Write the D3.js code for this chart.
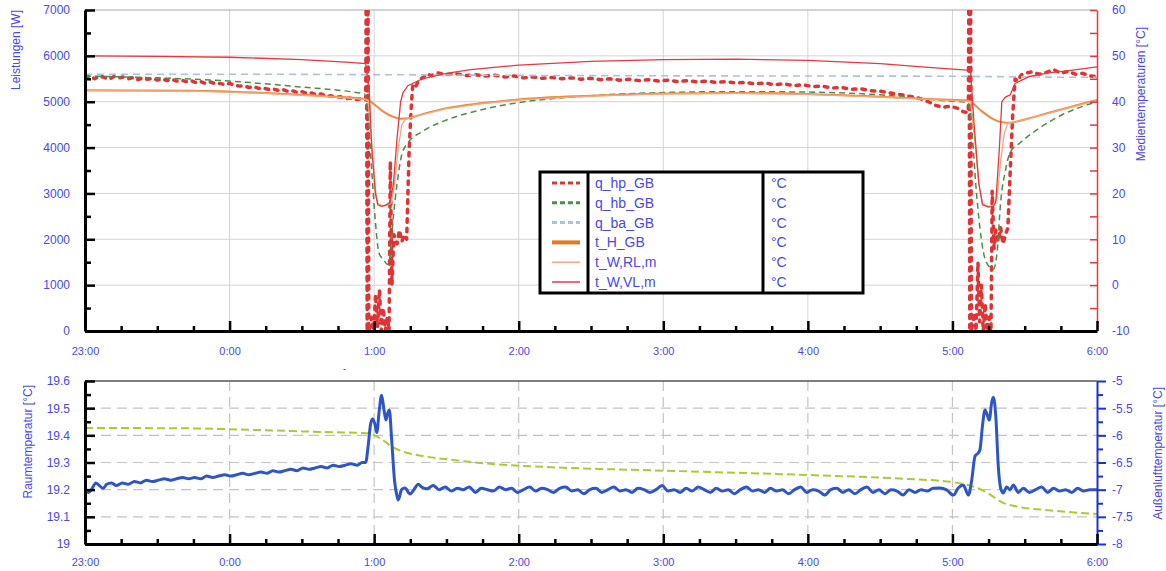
<!DOCTYPE html>
<html>
<head>
<meta charset="utf-8">
<script src="https://cdn.jsdelivr.net/npm/d3@7"></script>
<style>
  html, body { margin: 0; padding: 0; background: #fff; }
  svg text { font-family: "Liberation Sans", Arial, sans-serif; }
</style>
</head>
<body>
<svg id="chart" width="1166" height="571"></svg>
<script>
// ---------------------------------------------------------------------------
// Data: time in minutes after 23:00, values in W (power) or °C (temperatures)
// ---------------------------------------------------------------------------
const hourLabels = ["23:00", "0:00", "1:00", "2:00", "3:00", "4:00", "5:00", "6:00"];
const powerTicks = [0, 1000, 2000, 3000, 4000, 5000, 6000, 7000];
const mediumTicks = [-10, 0, 10, 20, 30, 40, 50, 60];
const roomTicks = [19, 19.1, 19.2, 19.3, 19.4, 19.5, 19.6];
const outdoorTicks = [-8, -7.5, -7, -6.5, -6, -5.5, -5];
const legendLabels = ["q_hp_GB", "q_hb_GB", "q_ba_GB", "t_H_GB", "t_W,RL,m", "t_W,VL,m"];
const legendUnit = "°C";

// heat pump output q_hp_GB [W]
const qHp = [
  [0,5520],[2,5560],[4,5500],[6,5560],[8,5530],[10,5490],[12,5550],[14,5520],[16,5540],[18,5500],
  [20,5530],[22,5480],[24,5520],[26,5490],[28,5510],[30,5470],[32,5500],[34,5460],[36,5490],[38,5450],
  [40,5470],[42,5440],[44,5460],[46,5420],[48,5440],[50,5400],[52,5430],[54,5390],[56,5400],[58,5370],
  [60,5400],[62,5360],[64,5340],[66,5350],[68,5310],[70,5330],[72,5290],[74,5300],[76,5270],[78,5280],
  [80,5250],[82,5270],[84,5230],[86,5240],[88,5200],[90,5220],[92,5180],[94,5190],[96,5150],[98,5170],
  [100,5120],[102,5130],[104,5090],[106,5110],[108,5060],[110,5080],[112,5040],[114,5060],[116.5,5040],
  [116.8,8500],[117.1,0],[117.4,8500],[117.8,0],[119,300],[119.8,0],[120.6,800],[121.4,100],[122.2,900],
  [123,0],[123.8,500],[124.6,0],[125.5,300],[126.2,0],[126.7,3700],[127.4,1000],[128.2,2100],[129.5,1900],
  [130.5,2200],[131.5,1950],[132.5,2100],[133.5,2000],[134.5,3900],[135.3,4800],[136,5350],[137,5300],
  [138.5,5470],[140,5520],[142,5600],[144,5570],[146,5630],[150,5590],[154,5610],[158,5570],[162,5590],
  [166,5560],[170,5580],[174,5540],[178,5560],[182,5520],[186,5540],[190,5510],[194,5530],[198,5500],
  [202,5520],[206,5490],[210,5510],[214,5480],[218,5500],[222,5470],[226,5490],[230,5460],[234,5480],
  [238,5450],[242,5470],[246,5440],[250,5460],[254,5430],[258,5450],[262,5420],[266,5440],[270,5410],
  [274,5420],[278,5390],[282,5410],[286,5370],[290,5390],[294,5350],[298,5370],[302,5330],[306,5340],
  [310,5300],[314,5310],[318,5270],[322,5280],[326,5240],[330,5230],[334,5190],[338,5160],[342,5120],
  [346,5080],[350,5000],[353,4920],[356,4880],[359,4900],[362,4860],[364.5,4780],[366.6,4760],
  [366.9,8500],[367.2,0],[367.5,8500],[367.9,0],[369,400],[369.8,0],[370.6,1500],[371.3,200],[372,1000],
  [372.8,0],[373.6,600],[374.4,0],[375.2,300],[376,0],[376.5,3050],[377.3,1800],[378,2200],[379,1950],
  [380,2250],[381,1900],[382,2100],[383,2250],[384,3500],[385,4700],[386,5500],[387,5450],[388.5,5580],
  [390,5620],[393,5650],[396,5600],[399,5640],[402,5700],[405,5620],[408,5660],[411,5600],[414,5620],
  [417,5560],[420,5550]
];

// q_hb_GB [W]
const qHb = [
  [0,5560],[30,5520],[60,5450],[90,5320],[110,5220],[116,5170],[117.5,4700],[119,3500],[120.5,2400],
  [122,1700],[124,1550],[125.5,1450],[126.5,1600],[128,2500],[129.5,3200],[131.5,3850],[134,4100],
  [140,4350],[150,4600],[165,4830],[180,4980],[210,5130],[240,5200],[270,5220],[300,5210],[330,5150],
  [355,5030],[366.5,4980],[368,4400],[370,3000],[372,2000],[374,1500],[377,1350],[378.5,1700],[380,2800],
  [382,3500],[384,3900],[388,4100],[396,4420],[405,4700],[420,5000]
];

// q_ba_GB [W]
const qBa = [
  [0,5600],[60,5600],[120,5590],[180,5575],[240,5565],[300,5560],[360,5555],[390,5540],[420,5530]
];

// t_H_GB [°C]
const tH = [
  [0,42.5],[45,42.4],[75,41.9],[100,41.2],[116,40.6],[118,40.2],[121,39.0],[124,37.8],[128,36.7],
  [131,36.3],[134,36.4],[140,37.3],[150,38.6],[165,39.7],[180,40.5],[210,41.3],[240,41.8],[270,41.9],
  [300,41.7],[330,41.1],[350,40.6],[366,40.3],[368,39.8],[372,38.0],[376,36.5],[380,35.6],[384,35.4],
  [386,35.6],[392,36.4],[400,37.6],[410,39.0],[420,40.4]
];

// t_W,RL,m [°C]
const tRl = [
  [0,42.4],[45,42.3],[75,41.8],[100,41.1],[116,40.5],[117.5,40.2],[119,31],[120.5,21],[121.6,17.8],
  [124,17.2],[127,17.8],[128.5,22],[130,30],[131.5,35],[133,36.2],[140,37.2],[150,38.5],[165,39.6],
  [180,40.4],[210,41.2],[240,41.7],[270,41.8],[300,41.6],[330,41.0],[350,40.5],[367.5,40.1],[369,33],
  [371,22],[372.5,17.8],[375,17.2],[377,17.4],[378.5,19],[380,27],[381.5,33],[383,35.4],[386,35.6],
  [392,36.3],[400,37.5],[410,38.9],[420,40.3]
];

// t_W,VL,m [°C]
const tVl = [
  [0,50.0],[30,49.9],[60,49.7],[90,49.2],[110,48.6],[116.5,48.3],[118,42],[119,30],[120.5,20],
  [121.5,17.5],[123,17.2],[125,17.5],[126.5,18],[128,22],[129.5,32],[131,40],[132,42],[134,43.5],
  [140,45],[150,46.2],[160,47],[180,48],[210,48.8],[240,49.2],[270,49.3],[300,49.0],[330,48.3],
  [350,47.5],[366,46.9],[367.5,46.8],[369,35],[371,22],[372.5,17.5],[375,17.0],[377,17.2],[378,18],
  [379.5,30],[380.5,40],[382,41],[384,41.5],[386,44],[392,45.5],[400,46.3],[410,46.9],[420,47.6]
];

// room temperature [°C]
const roomTemp = [
  [0,19.195],[1.5,19.19],[3,19.205],[4.5,19.225],[6,19.215],[7.5,19.205],[9,19.22],[11,19.225],
  [13,19.215],[15.5,19.225],[18,19.22],[20.5,19.23],[23,19.225],[25.5,19.235],[28,19.23],[30.5,19.235],
  [33,19.24],[35.5,19.235],[38,19.24],[40.5,19.245],[43,19.24],[45.5,19.245],[48,19.24],[50.5,19.25],
  [53,19.245],[55.5,19.25],[58,19.255],[60.5,19.25],[63,19.255],[65.5,19.26],[68,19.255],[70.5,19.26],
  [73,19.265],[75.5,19.26],[78,19.27],[80.5,19.265],[83,19.27],[85.5,19.275],[88,19.27],[90.5,19.28],
  [93,19.275],[95.5,19.28],[98,19.285],[100.5,19.28],[103,19.29],[105.5,19.285],[108,19.29],
  [110.5,19.295],[113,19.29],[115,19.3],[116.5,19.3],
  [117.5,19.36],[118.5,19.44],[119.3,19.46],[120.2,19.445],[121.1,19.41],[122.1,19.49],[123.1,19.548],
  [124.1,19.493],[124.9,19.456],[125.6,19.48],[126.3,19.493],[127.3,19.38],[128.5,19.23],[129.4,19.18],
  [130,19.162],[131.4,19.2],[132.8,19.206],[134.9,19.184],[136.5,19.2],[138.3,19.22],[139.7,19.21],
  [141.8,19.203],[144.5,19.215],[147,19.2],[149.5,19.21],[152,19.195],[154.5,19.205],[157,19.2],
  [159.5,19.21],[162,19.19],[164.5,19.205],[167,19.2],[169.5,19.195],[172,19.21],[174.5,19.2],
  [177,19.205],[179.5,19.19],[182,19.2],[184.5,19.21],[187,19.195],[189.5,19.205],[192,19.2],
  [194.5,19.19],[197,19.205],[199.5,19.21],[202,19.195],[204.5,19.2],[207,19.185],[209.5,19.2],
  [212,19.205],[214.5,19.19],[217,19.2],[219.5,19.21],[222,19.195],[224.5,19.2],[227,19.19],
  [229.5,19.205],[232,19.2],[234.5,19.19],[237,19.2],[239.5,19.215],[242,19.195],[244.5,19.2],
  [247,19.19],[249.5,19.205],[252,19.195],[254.5,19.21],[257,19.2],[259.5,19.19],[262,19.205],
  [264.5,19.195],[267,19.2],[269.5,19.185],[272,19.2],[274.5,19.21],[277,19.195],[279.5,19.2],
  [282,19.19],[284.5,19.205],[287,19.195],[289.5,19.2],[292,19.185],[294.5,19.2],[297,19.21],
  [299.5,19.19],[302,19.2],[304.5,19.195],[307,19.18],[309.5,19.2],[312,19.205],[314.5,19.19],
  [317,19.2],[319.5,19.185],[322,19.2],[324.5,19.21],[327,19.19],[329.5,19.2],[332,19.185],
  [334.5,19.2],[337,19.195],[339.5,19.18],[342,19.2],[344.5,19.19],[347,19.2],[349.5,19.195],
  [352,19.205],[354.8,19.206],[357.6,19.199],[360.4,19.18],[362.4,19.206],[364.5,19.217],
  [366.6,19.18],[368,19.235],[369.4,19.324],[370.7,19.335],[371.4,19.346],[372.5,19.4375],
  [373.5,19.493],[374.5,19.474],[375.3,19.456],[376.3,19.522],[377,19.54],[378.1,19.456],
  [379,19.29],[380,19.206],[381.1,19.1875],[382.5,19.21],[383.9,19.199],[385.3,19.217],[387.3,19.19],
  [389.4,19.205],[392,19.19],[394.5,19.2],[397,19.21],[399.5,19.19],[402,19.205],[404.5,19.195],
  [407,19.2],[409.5,19.19],[412,19.205],[414.5,19.195],[417,19.2],[420,19.2]
];

// outdoor air temperature [°C]
const outdoorTemp = [
  [0,-5.865],[40,-5.87],[70,-5.9],[100,-5.94],[117,-5.96],[121,-6.02],[124,-6.1],[127,-6.2],
  [132,-6.3],[140,-6.38],[152,-6.45],[170,-6.53],[190,-6.58],[240,-6.65],[300,-6.73],[340,-6.8],
  [360,-6.86],[366,-6.91],[372,-7.0],[376,-7.1],[380,-7.22],[388,-7.32],[400,-7.38],[420,-7.45]
];

// ---------------------------------------------------------------------------
// Layout and scales
// ---------------------------------------------------------------------------
const svg = d3.select("#chart");
const TOP = { left: 85, right: 1097, top: 10, bottom: 331 };
const BOT = { left: 85, right: 1097, top: 381, bottom: 544 };
const LABEL = "#4848ee";
const plain = d => String(d);

const x = d3.scaleLinear().domain([0, 420]).range([TOP.left, TOP.right]);
const yPow = d3.scaleLinear().domain([0, 7000]).range([TOP.bottom, TOP.top]);
const yMed = d3.scaleLinear().domain([-10, 60]).range([TOP.bottom, TOP.top]);
const yRoom = d3.scaleLinear().domain([19, 19.6]).range([BOT.bottom, BOT.top]);
const yOut = d3.scaleLinear().domain([-8, -5]).range([BOT.bottom, BOT.top]);

const hourTicks = hourLabels.map((_, i) => i * 60);
const quarterTicks = d3.range(0, 421, 15).filter(t => t % 60 !== 0);
const hourFmt = t => hourLabels[t / 60];

// clip regions
const defs = svg.append("defs");
defs.append("clipPath").attr("id", "clipTop").append("rect")
  .attr("x", TOP.left).attr("y", TOP.top)
  .attr("width", TOP.right - TOP.left).attr("height", TOP.bottom - TOP.top);
defs.append("clipPath").attr("id", "clipBot").append("rect")
  .attr("x", BOT.left).attr("y", BOT.top)
  .attr("width", BOT.right - BOT.left).attr("height", BOT.bottom - BOT.top);

// ---------------------------------------------------------------------------
// Upper panel: power and medium temperatures
// ---------------------------------------------------------------------------
const gTop = svg.append("g");

// grid
gTop.append("g").selectAll("line").data(powerTicks.slice(1, -1)).join("line")
  .attr("x1", TOP.left).attr("x2", TOP.right)
  .attr("y1", d => yPow(d)).attr("y2", d => yPow(d))
  .attr("stroke", "#d4d4d4").attr("stroke-width", 1);
gTop.append("g").selectAll("line").data(hourTicks.slice(1, -1)).join("line")
  .attr("x1", d => x(d)).attr("x2", d => x(d))
  .attr("y1", TOP.top).attr("y2", TOP.bottom)
  .attr("stroke", "#d4d4d4").attr("stroke-width", 1);
gTop.append("line")
  .attr("x1", TOP.left).attr("x2", TOP.right).attr("y1", TOP.top).attr("y2", TOP.top)
  .attr("stroke", "#a8a8a8").attr("stroke-width", 1);

const linePow = d3.line().x(d => x(d[0])).y(d => yPow(d[1]));
const lineMed = d3.line().x(d => x(d[0])).y(d => yMed(d[1]));
const lineMedSmooth = d3.line().x(d => x(d[0])).y(d => yMed(d[1])).curve(d3.curveMonotoneX);
const linePowSmooth = d3.line().x(d => x(d[0])).y(d => yPow(d[1])).curve(d3.curveMonotoneX);

const series = gTop.append("g").attr("clip-path", "url(#clipTop)").attr("fill", "none");

series.append("path").datum(qHp).attr("d", linePow)
  .attr("stroke", "#e03434").attr("stroke-width", 3.5)
  .attr("stroke-dasharray", "3.5,6").attr("stroke-linecap", "round").attr("stroke-linejoin", "round");
series.append("path").datum(qBa).attr("d", linePowSmooth)
  .attr("stroke", "#a6c4de").attr("stroke-width", 1.6).attr("stroke-dasharray", "7,5");
series.append("path").datum(qHb).attr("d", linePowSmooth)
  .attr("stroke", "#4a8f48").attr("stroke-width", 1.5).attr("stroke-dasharray", "6,4");
series.append("path").datum(tH).attr("d", lineMedSmooth)
  .attr("stroke", "#ee8a40").attr("stroke-width", 2);
series.append("path").datum(tRl).attr("d", lineMed)
  .attr("stroke", "#f6a67c").attr("stroke-width", 1.3);
series.append("path").datum(tVl).attr("d", lineMed)
  .attr("stroke", "#e8383c").attr("stroke-width", 1.3);

// left axis (power)
const axPow = gTop.append("g").attr("transform", `translate(${TOP.left},0)`)
  .call(d3.axisLeft(yPow).tickValues(powerTicks).tickFormat(plain).tickSizeInner(-10).tickSizeOuter(0).tickPadding(15));
axPow.select(".domain").attr("stroke", "#000").attr("stroke-width", 3);
axPow.selectAll(".tick line").attr("stroke", "#000").attr("stroke-width", 2.5);
axPow.selectAll("text").attr("fill", LABEL).attr("font-size", 12);
gTop.append("g").attr("transform", `translate(${TOP.left},0)`)
  .call(d3.axisLeft(yPow).tickValues(d3.range(500, 7000, 1000)).tickFormat("").tickSizeInner(-6).tickSizeOuter(0))
  .call(g => g.select(".domain").remove())
  .selectAll(".tick line").attr("stroke", "#000").attr("stroke-width", 2.5);

// right axis (medium temperatures)
const axMed = gTop.append("g").attr("transform", `translate(${TOP.right},0)`)
  .call(d3.axisRight(yMed).tickValues(d3.range(-10, 61, 5)).tickSizeInner(-7).tickSizeOuter(0).tickPadding(15)
    .tickFormat(d => mediumTicks.includes(d) ? plain(d) : ""));
axMed.select(".domain").attr("stroke", "#e8383c").attr("stroke-width", 1.5);
axMed.selectAll(".tick line").attr("stroke", "#e8383c").attr("stroke-width", 1.5);
axMed.selectAll("text").attr("fill", LABEL).attr("font-size", 12);

// bottom axis (time)
const axTimeTop = gTop.append("g").attr("transform", `translate(0,${TOP.bottom})`)
  .call(d3.axisBottom(x).tickValues(hourTicks).tickFormat(hourFmt).tickSizeInner(-10).tickSizeOuter(0).tickPadding(16));
axTimeTop.select(".domain").attr("stroke", "#000").attr("stroke-width", 3);
axTimeTop.selectAll(".tick line").attr("stroke", "#000").attr("stroke-width", 2.5);
axTimeTop.selectAll("text").attr("fill", LABEL).attr("font-size", 11);
gTop.append("g").attr("transform", `translate(0,${TOP.bottom})`)
  .call(d3.axisBottom(x).tickValues(quarterTicks).tickFormat("").tickSizeInner(-5).tickSizeOuter(0))
  .call(g => g.select(".domain").remove())
  .selectAll(".tick line").attr("stroke", "#000").attr("stroke-width", 2.5);

// axis titles
svg.append("text").attr("transform", "translate(19.5,10) rotate(-90)")
  .attr("text-anchor", "end").attr("font-size", 12).attr("fill", LABEL).text("Leistungen [W]");
svg.append("text").attr("transform", "translate(1144.5,27) rotate(-90)")
  .attr("text-anchor", "end").attr("font-size", 12).attr("fill", LABEL).text("Medientemperaturen [°C]");

// legend
const LEG = { x: 540, y: 172, w: 323, h: 121, col1: 588, col2: 763, row0: 183, rowH: 19.8 };
const gLeg = svg.append("g");
gLeg.append("rect").attr("x", LEG.x).attr("y", LEG.y).attr("width", LEG.w).attr("height", LEG.h)
  .attr("fill", "#fff").attr("stroke", "#000").attr("stroke-width", 3);
[LEG.col1, LEG.col2].forEach(cx => gLeg.append("line")
  .attr("x1", cx).attr("x2", cx).attr("y1", LEG.y).attr("y2", LEG.y + LEG.h)
  .attr("stroke", "#000").attr("stroke-width", 3));
const legendStyles = [
  { stroke: "#e03434", width: 3, dash: "5,3" },
  { stroke: "#4a8f48", width: 3, dash: "5,3" },
  { stroke: "#a6c4de", width: 3, dash: "5,3" },
  { stroke: "#e8761e", width: 4, dash: null },
  { stroke: "#f6a67c", width: 1.5, dash: null },
  { stroke: "#e8383c", width: 1.5, dash: null }
];
const rows = gLeg.selectAll("g.row").data(legendLabels).join("g").attr("class", "row")
  .attr("transform", (d, i) => `translate(0,${LEG.row0 + i * LEG.rowH})`);
rows.append("line").attr("x1", 552).attr("x2", 580).attr("y1", 0).attr("y2", 0)
  .attr("stroke", (d, i) => legendStyles[i].stroke)
  .attr("stroke-width", (d, i) => legendStyles[i].width)
  .attr("stroke-dasharray", (d, i) => legendStyles[i].dash);
rows.append("text").attr("x", 595).attr("y", 0).attr("dy", "0.35em")
  .attr("font-size", 14).attr("fill", LABEL).text(d => d);
rows.append("text").attr("x", 771).attr("y", 0).attr("dy", "0.35em")
  .attr("font-size", 14).attr("fill", LABEL).text(legendUnit);

// small mark between the panels
svg.append("text").attr("x", 343).attr("y", 372).attr("font-size", 9).attr("fill", "#333").text("-");

// ---------------------------------------------------------------------------
// Lower panel: room and outdoor air temperature
// ---------------------------------------------------------------------------
const gBot = svg.append("g");
gBot.append("g").selectAll("line").data(roomTicks.slice(1, -1)).join("line")
  .attr("x1", BOT.left).attr("x2", BOT.right)
  .attr("y1", d => yRoom(d)).attr("y2", d => yRoom(d))
  .attr("stroke", "#c4c4c4").attr("stroke-width", 1.2).attr("stroke-dasharray", "10,6");
gBot.append("g").selectAll("line").data(hourTicks.slice(1, -1)).join("line")
  .attr("x1", d => x(d)).attr("x2", d => x(d))
  .attr("y1", BOT.top).attr("y2", BOT.bottom)
  .attr("stroke", "#c4c4c4").attr("stroke-width", 1.2).attr("stroke-dasharray", "10,6");
gBot.append("line")
  .attr("x1", BOT.left).attr("x2", BOT.right).attr("y1", BOT.top).attr("y2", BOT.top)
  .attr("stroke", "#555").attr("stroke-width", 1.5);

const botSeries = gBot.append("g").attr("clip-path", "url(#clipBot)").attr("fill", "none");
botSeries.append("path").datum(outdoorTemp)
  .attr("d", d3.line().x(d => x(d[0])).y(d => yOut(d[1])).curve(d3.curveMonotoneX))
  .attr("stroke", "#a9cc34").attr("stroke-width", 2).attr("stroke-dasharray", "8,4");
botSeries.append("path").datum(roomTemp)
  .attr("d", d3.line().x(d => x(d[0])).y(d => yRoom(d[1])).curve(d3.curveMonotoneX))
  .attr("stroke", "#2e55c8").attr("stroke-width", 3).attr("stroke-linejoin", "round");

// left axis (room temperature)
const axRoom = gBot.append("g").attr("transform", `translate(${BOT.left},0)`)
  .call(d3.axisLeft(yRoom).tickValues(roomTicks).tickFormat(plain).tickSizeInner(-10).tickSizeOuter(0).tickPadding(15));
axRoom.select(".domain").attr("stroke", "#000").attr("stroke-width", 3);
axRoom.selectAll(".tick line").attr("stroke", "#000").attr("stroke-width", 2.5);
axRoom.selectAll("text").attr("fill", LABEL).attr("font-size", 12);
gBot.append("g").attr("transform", `translate(${BOT.left},0)`)
  .call(d3.axisLeft(yRoom).tickValues(d3.range(19.05, 19.6, 0.1)).tickFormat("").tickSizeInner(-6).tickSizeOuter(0))
  .call(g => g.select(".domain").remove())
  .selectAll(".tick line").attr("stroke", "#000").attr("stroke-width", 2.5);

// right axis (outdoor temperature)
const axOut = gBot.append("g").attr("transform", `translate(${BOT.right},0)`)
  .call(d3.axisRight(yOut).tickValues(outdoorTicks).tickFormat(plain).tickSizeInner(9).tickSizeOuter(0).tickPadding(6));
axOut.select(".domain").attr("stroke", "#1c2fd8").attr("stroke-width", 2);
axOut.selectAll(".tick line").attr("stroke", "#1c2fd8").attr("stroke-width", 2);
axOut.selectAll("text").attr("fill", LABEL).attr("font-size", 12);
gBot.append("g").attr("transform", `translate(${BOT.right},0)`)
  .call(d3.axisRight(yOut).tickValues(d3.range(-7.75, -5, 0.5)).tickFormat("").tickSizeInner(6).tickSizeOuter(0))
  .call(g => g.select(".domain").remove())
  .selectAll(".tick line").attr("stroke", "#1c2fd8").attr("stroke-width", 2);

// bottom axis (time)
const axTimeBot = gBot.append("g").attr("transform", `translate(0,${BOT.bottom})`)
  .call(d3.axisBottom(x).tickValues(hourTicks).tickFormat(hourFmt).tickSizeInner(-10).tickSizeOuter(0).tickPadding(14));
axTimeBot.select(".domain").attr("stroke", "#000").attr("stroke-width", 3);
axTimeBot.selectAll(".tick line").attr("stroke", "#000").attr("stroke-width", 2.5);
axTimeBot.selectAll("text").attr("fill", LABEL).attr("font-size", 11);
gBot.append("g").attr("transform", `translate(0,${BOT.bottom})`)
  .call(d3.axisBottom(x).tickValues(quarterTicks).tickFormat("").tickSizeInner(-5).tickSizeOuter(0))
  .call(g => g.select(".domain").remove())
  .selectAll(".tick line").attr("stroke", "#000").attr("stroke-width", 2.5);

svg.append("text").attr("transform", "translate(31.5,385) rotate(-90)")
  .attr("text-anchor", "end").attr("font-size", 12).attr("fill", LABEL).text("Raumtemperatur [°C]");
svg.append("text").attr("transform", "translate(1162,387) rotate(-90)")
  .attr("text-anchor", "end").attr("font-size", 12).attr("fill", LABEL).text("Außenlufttemperatur [°C]");
</script>
</body>
</html>
